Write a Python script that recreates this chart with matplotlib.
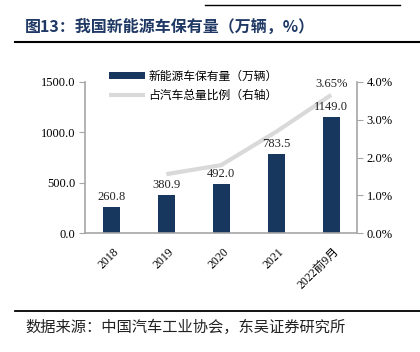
import matplotlib
matplotlib.use("Agg")
import matplotlib.pyplot as plt
from matplotlib.ticker import FuncFormatter
import numpy as np

categories = ["2018", "2019", "2020", "2021", "2022前9月"]
stock = [260.8, 380.9, 492.0, 783.5, 1149.0]
share_years = ["2019", "2020", "2021", "2022前9月"]
share = [1.56, 1.80, 2.68, 3.65]

CJK = ["Noto Sans CJK SC", "DejaVu Sans"]
SERIF = ["Liberation Serif", "Noto Sans CJK SC"]
bar_color = "#17375E"
line_color = "#D9D9D9"
axis_color = "#A6A6A6"

W, H = 420, 352
fig = plt.figure(figsize=(W / 100, H / 100), dpi=100)

def fx(px):
    return px / W

def fy(py):
    return 1 - py / H

ax = fig.add_axes([fx(85), fy(233.3), fx(357) - fx(85), fy(81.7) - fy(233.3)])
x = np.arange(len(categories))
ax.bar(x, stock, width=0.31, color=bar_color, label="新能源车保有量（万辆）", zorder=2)
ax.set_xlim(-0.48, len(categories) - 1 + 0.47)
ax.set_ylim(0, 1500)
ax.set_yticks([0, 500, 1000, 1500])
ax.yaxis.set_major_formatter(FuncFormatter(lambda v, p: f"{v:.1f}"))

ax2 = ax.twinx()
xs = [categories.index(c) for c in share_years]
ax2.plot(xs, share, color=line_color, lw=3, solid_capstyle="butt",
         label="占汽车总量比例（右轴）", zorder=3)
ax2.set_ylim(0, 4)
ax2.set_yticks([0, 1, 2, 3, 4])
ax2.yaxis.set_major_formatter(FuncFormatter(lambda v, p: f"{v:.1f}%"))

# bar value labels drawn on top of the line
for xi, v in zip(x, stock):
    ax2.text(xi, v + 40, f"{v:.1f}", transform=ax.transData, ha="center", va="bottom",
             fontsize=9, family=SERIF, color="#222222", zorder=6)
ax2.text(xs[-1], share[-1] + 0.12, f"{share[-1]:.2f}%", ha="center", va="bottom",
         fontsize=9, family=SERIF, color="#222222", zorder=6)

for a in (ax, ax2):
    for s in a.spines.values():
        s.set_visible(False)
ax.spines["left"].set_visible(True)
ax.spines["bottom"].set_visible(True)
ax2.spines["right"].set_visible(True)
for s in (ax.spines["left"], ax.spines["bottom"], ax2.spines["right"]):
    s.set_color(axis_color)
    s.set_linewidth(1.2)

ax.set_xticks(x)
ax.set_xticklabels(categories, rotation=45, ha="right", rotation_mode="anchor",
                   family=SERIF, fontsize=8.5)
ax.tick_params(axis="x", length=0, pad=9)
ax.tick_params(axis="y", length=4, color=axis_color, labelsize=9, pad=3)
ax2.tick_params(axis="y", length=4, color=axis_color, labelsize=9, pad=3)
for lab in ax.get_yticklabels() + ax2.get_yticklabels():
    lab.set_family(SERIF)
for lab in ax.get_xticklabels():
    lab.set_transform(lab.get_transform() + matplotlib.transforms.ScaledTranslation(1.5 / 100, 0, fig.dpi_scale_trans))

h1, l1 = ax.get_legend_handles_labels()
h2, l2 = ax2.get_legend_handles_labels()
leg = ax2.legend(h1 + h2, l1 + l2, loc="upper left", bbox_to_anchor=(0.05, 1.15),
                 frameon=False, prop={"family": CJK, "size": 8.5},
                 handlelength=3.0, handleheight=0.6, labelspacing=0.55, handletextpad=0.3)
leg.set_zorder(7)

# Title and rules
fig.text(fx(25), fy(27), "图13：我国新能源车保有量（万辆，%）", ha="left", va="center",
         fontsize=11.5, fontweight="bold", color="#1F3864", family=CJK)
fig.add_artist(plt.Line2D([fx(15), fx(420)], [fy(42), fy(42)], color="black", lw=1.5))
fig.add_artist(plt.Line2D([fx(205), fx(400)], [fy(5), fy(5)], color="black", lw=1.0))
fig.add_artist(plt.Line2D([fx(15), fx(420)], [fy(311), fy(311)], color="black", lw=1.3))
fig.text(fx(25), fy(327), "数据来源：中国汽车工业协会，东吴证券研究所", ha="left", va="center",
         fontsize=11, color="#222222", family=CJK)

fig.savefig("out.png", dpi=100)
